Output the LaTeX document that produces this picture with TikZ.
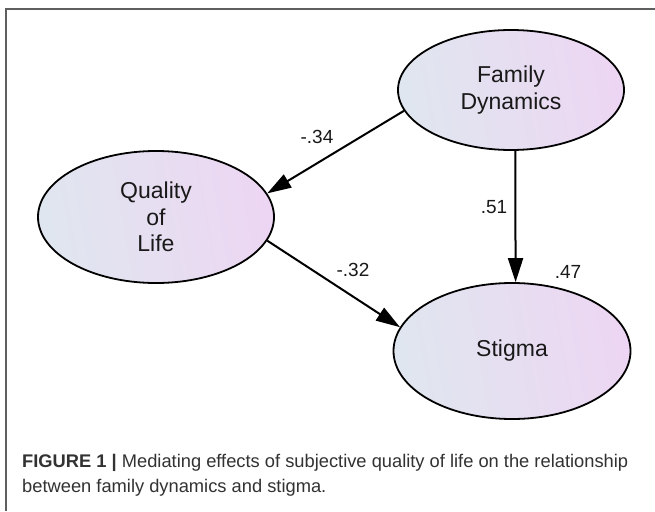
\documentclass[tikz,border=0pt]{standalone}
\usepackage{fontspec}
\setmainfont{Liberation Sans}
\usetikzlibrary{shapes.geometric,arrows.meta}
\definecolor{shL}{RGB}{224,230,239}
\definecolor{shR}{RGB}{237,214,243}
\definecolor{framec}{RGB}{95,95,95}
\definecolor{capc}{RGB}{50,50,50}
\tikzset{
  latent/.style={ellipse, draw=black, line width=1.8pt, inner sep=0pt,
    left color=shL, right color=shR, shading angle=100,
    font=\fontsize{23}{26.5}\selectfont, align=center, text=black!90},
  arr/.style={line width=2pt, -{Triangle[length=24pt,width=15pt]}},
  coef/.style={font=\fontsize{19}{20}\selectfont, text=black!90, inner sep=0pt},
  captxt/.style={font=\fontsize{18.3}{22}\selectfont, text=capc, inner sep=0pt, anchor=base west}
}
\begin{document}
\begin{tikzpicture}[x=1pt,y=-1pt]
\useasboundingbox (0,0) rectangle (655,511);
\fill[white] (0,0) rectangle (655,511);
\draw[framec, line width=1.3pt] (6,511) -- (6,9) -- (655,9);
\node[latent, minimum width=226pt, minimum height=120pt] (fd) at (511,90) {Family\\Dynamics};
\node[latent, minimum width=236pt, minimum height=132pt] (ql) at (156,217) {Quality\\of\\Life};
\node[latent, minimum width=237pt, minimum height=136pt] (st) at (512,351) {Stigma};
\draw[arr] (fd.191.5) -- (ql.12.6);
\draw[arr] (ql.-12.4) -- (st.168);
\draw[arr] (fd.-86) -- (st.87.5);
\node[coef] (c1) at (317,137) {-.34};
\node[coef] (c2) at (494,207) {.51};
\node[coef] (c3) at (353,270) {-.32};
\node[coef] (c4) at (568,272) {.47};
\node[captxt] (cap1) at (22,467) {\textbf{FIGURE 1 |} Mediating effects of subjective quality of life on the relationship};
\node[captxt] (cap2) at (22,492) {between family dynamics and stigma.};
\end{tikzpicture}
\end{document}
